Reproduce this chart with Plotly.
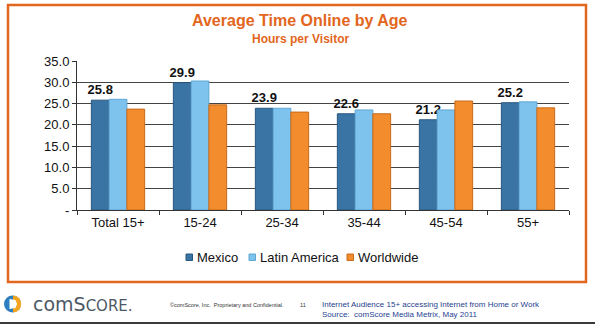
import plotly.graph_objects as go

categories = ["Total 15+", "15-24", "25-34", "35-44", "45-54", "55+"]
mexico = [25.8, 29.9, 23.9, 22.6, 21.2, 25.2]
latin_america = [26.0, 30.3, 23.9, 23.5, 23.5, 25.4]
worldwide = [23.7, 24.7, 23.0, 22.6, 25.6, 24.0]
y_ticks = [0, 5, 10, 15, 20, 25, 30, 35]
y_tick_text = ["-", "5.0", "10.0", "15.0", "20.0", "25.0", "30.0", "35.0"]
series_names = ["Mexico", "Latin America", "Worldwide"]
series_colors = ["#3A74A5", "#7DC3EE", "#F28C2C"]
series_edges = ["#28577f", "#5fa6d2", "#c86a1a"]

W, H = 595, 327
ML, MR, MT, MB = 77, 26, 61, 117
PW, PH = W - ML - MR, H - MT - MB


def px(x):
    return (x - ML) / PW


def py(y):
    return (H - MB - y) / PH


FONT = "Liberation Sans, Arial, sans-serif"
ORANGE = "#E2661D"

fig = go.Figure()
for name, vals, col, edge in zip(series_names, [mexico, latin_america, worldwide],
                                 series_colors, series_edges):
    kw = {}
    if name == "Mexico":
        kw = dict(text=[f"<b>{v:.1f}</b>" for v in vals], textposition="outside",
                  textfont=dict(family=FONT, size=13, color="#111111"),
                  constraintext="none", cliponaxis=False)
    fig.add_trace(go.Bar(name=name, x=categories, y=vals,
                         marker=dict(color=col, line=dict(color=edge, width=1)),
                         showlegend=False, **kw))

shapes = [
    # orange frame around the chart
    dict(type="rect", xref="paper", yref="paper",
         x0=px(8), x1=px(586), y0=py(282), y1=py(5),
         line=dict(color=ORANGE, width=2.5), layer="below"),
    # footer rule
    dict(type="line", xref="paper", yref="paper",
         x0=px(0), x1=px(595), y0=py(323), y1=py(323),
         line=dict(color="#3a3a3a", width=2)),
    # logo: blue ring with an orange right side and a white core
    dict(type="circle", xref="paper", yref="paper",
         x0=px(4), x1=px(21), y0=py(312.5), y1=py(295.5),
         fillcolor="#2E7FC0", line=dict(width=0)),
    dict(type="path", xref="paper", yref="paper",
         path=(f"M {px(13)},{py(295.5)} L {px(16.5)},{py(296.3)} L {px(19.5)},{py(298.5)} "
               f"L {px(21)},{py(302)} L {px(21)},{py(306)} L {px(19.5)},{py(309.5)} "
               f"L {px(16.5)},{py(311.7)} L {px(13)},{py(312.5)} Z"),
         fillcolor="#F3A521", line=dict(width=0)),
    dict(type="path", xref="paper", yref="paper",
         path=(f"M {px(9.5)},{py(299)} L {px(15.5)},{py(300)} L {px(17)},{py(304)} "
               f"L {px(15.5)},{py(308)} L {px(9.5)},{py(309)} Z"),
         fillcolor="white", line=dict(width=0)),
]

annotations = [
    dict(text="<b>Average Time Online by Age</b>", x=px(300), y=py(21),
         font=dict(family=FONT, size=16, color=ORANGE)),
    dict(text="<b>Hours per Visitor</b>", x=px(300), y=py(39),
         font=dict(family=FONT, size=12, color=ORANGE)),
    dict(text="comS<span style='font-size:15px'>CORE.</span>", x=px(31), y=py(304),
         xanchor="left", font=dict(family="DejaVu Sans, sans-serif", size=19, color="#4d5866")),
    dict(text="©comScore, Inc.  Proprietary and Confidential.", x=px(168), y=py(305),
         xanchor="left", font=dict(family=FONT, size=5.5, color="#333333")),
    dict(text="11", x=px(298), y=py(305), xanchor="left",
         font=dict(family=FONT, size=5.5, color="#333333")),
    dict(text="Internet Audience 15+ accessing Internet from Home or Work<br>"
              "Source:  comScore Media Metrix, May 2011",
         x=px(320), y=py(309), xanchor="left", align="left",
         font=dict(family=FONT, size=8, color="#1f3f8f")),
]

# legend drawn as small swatches with labels
legend_x = [186, 249, 347]
for lx, name, col, edge in zip(legend_x, series_names, series_colors, series_edges):
    shapes.append(dict(type="rect", xref="paper", yref="paper",
                       x0=px(lx), x1=px(lx + 6.5), y0=py(260.5), y1=py(254),
                       fillcolor=col, line=dict(color=edge, width=1)))
    annotations.append(dict(text=name, x=px(lx + 9), y=py(257.5), xanchor="left",
                            font=dict(family=FONT, size=13, color="#111111")))

for a in annotations:
    a.setdefault("xanchor", "center")
    a.update(xref="paper", yref="paper", yanchor="middle", showarrow=False)

fig.update_layout(
    width=W, height=H,
    margin=dict(l=ML, r=MR, t=MT, b=MB, pad=0),
    paper_bgcolor="white", plot_bgcolor="white",
    barmode="group", bargap=0.35, bargroupgap=0,
    font=dict(family=FONT, size=13, color="#111111"),
    showlegend=False,
    shapes=shapes,
    annotations=annotations,
)
fig.update_xaxes(
    type="category", showline=True, linecolor="#333333", linewidth=1,
    ticks="outside", tickson="boundaries", ticklen=4, tickcolor="#333333",
    tickfont=dict(family=FONT, size=13, color="#111111"),
    showgrid=False,
)
fig.update_yaxes(
    range=[0, 35], tickvals=y_ticks, ticktext=y_tick_text,
    showline=True, linecolor="#333333", linewidth=1,
    ticks="outside", ticklen=4, tickcolor="#333333",
    showgrid=True, gridcolor="#444444", gridwidth=1,
    tickfont=dict(family=FONT, size=13, color="#111111"),
    zeroline=False,
)

fig.write_html("out.html")
